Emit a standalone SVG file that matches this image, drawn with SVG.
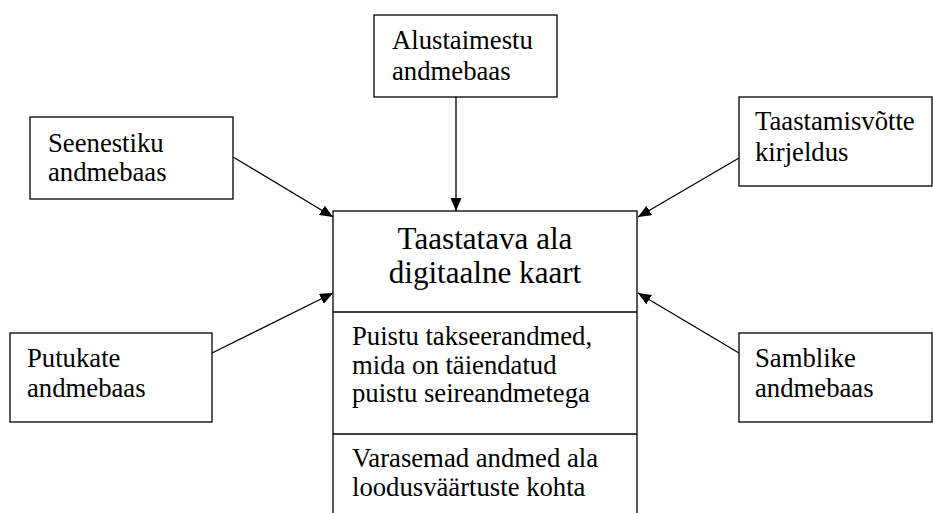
<svg xmlns="http://www.w3.org/2000/svg" width="933" height="513" viewBox="0 0 933 513">
<style>
.box{fill:#fff;stroke:#000;stroke-width:1.3}
.t{font-family:"Liberation Serif","Times New Roman",serif;font-size:26.7px;fill:#000}
.big{font-size:31.1px}
.conn line{stroke:#000;stroke-width:1.3}
</style>
<defs>
<marker id="ah" markerUnits="userSpaceOnUse" markerWidth="14" markerHeight="12" refX="13" refY="5.5" orient="auto">
<path d="M0,0 L13,5.5 L0,11 Z" fill="#000"/>
</marker>
</defs>
<rect width="933" height="513" fill="#fff"/>
<g id="main">
<rect class="box" x="333" y="211" width="304" height="320"/>
<line x1="333" y1="312" x2="637" y2="312" stroke="#000" stroke-width="1.3"/>
<line x1="333" y1="434" x2="637" y2="434" stroke="#000" stroke-width="1.3"/>
<text class="t big" x="485" y="249" text-anchor="middle">Taastatava ala</text>
<text class="t big" x="485" y="283" text-anchor="middle">digitaalne kaart</text>
<text class="t" x="352" y="345">Puistu takseerandmed,</text>
<text class="t" x="352" y="374">mida on täiendatud</text>
<text class="t" x="352" y="402">puistu seireandmetega</text>
<text class="t" x="352" y="467">Varasemad andmed ala</text>
<text class="t" x="352" y="496">loodusväärtuste kohta</text>
</g>
<g id="alustaimestu">
<rect class="box" x="374" y="15" width="183" height="82"/>
<text class="t" x="392" y="49">Alustaimestu</text>
<text class="t" x="392" y="80">andmebaas</text>
</g>
<g id="seenestiku">
<rect class="box" x="30" y="117" width="203" height="82"/>
<text class="t" x="48" y="152">Seenestiku</text>
<text class="t" x="48" y="181">andmebaas</text>
</g>
<g id="taastamisvotte">
<rect class="box" x="739" y="97" width="193" height="89"/>
<text class="t" x="755" y="130">Taastamisvõtte</text>
<text class="t" x="755" y="161">kirjeldus</text>
</g>
<g id="putukate">
<rect class="box" x="10" y="333" width="202" height="89"/>
<text class="t" x="27" y="367">Putukate</text>
<text class="t" x="27" y="397">andmebaas</text>
</g>
<g id="samblike">
<rect class="box" x="739" y="333" width="193" height="89"/>
<text class="t" x="755" y="367">Samblike</text>
<text class="t" x="755" y="397">andmebaas</text>
</g>
<g id="connectors" class="conn">
<line x1="456" y1="97" x2="456" y2="211" marker-end="url(#ah)"/>
<line x1="233" y1="157" x2="333" y2="217" marker-end="url(#ah)"/>
<line x1="212" y1="353" x2="333" y2="293" marker-end="url(#ah)"/>
<line x1="739" y1="158" x2="638" y2="217" marker-end="url(#ah)"/>
<line x1="739" y1="353" x2="638" y2="293" marker-end="url(#ah)"/>
</g>
</svg>
